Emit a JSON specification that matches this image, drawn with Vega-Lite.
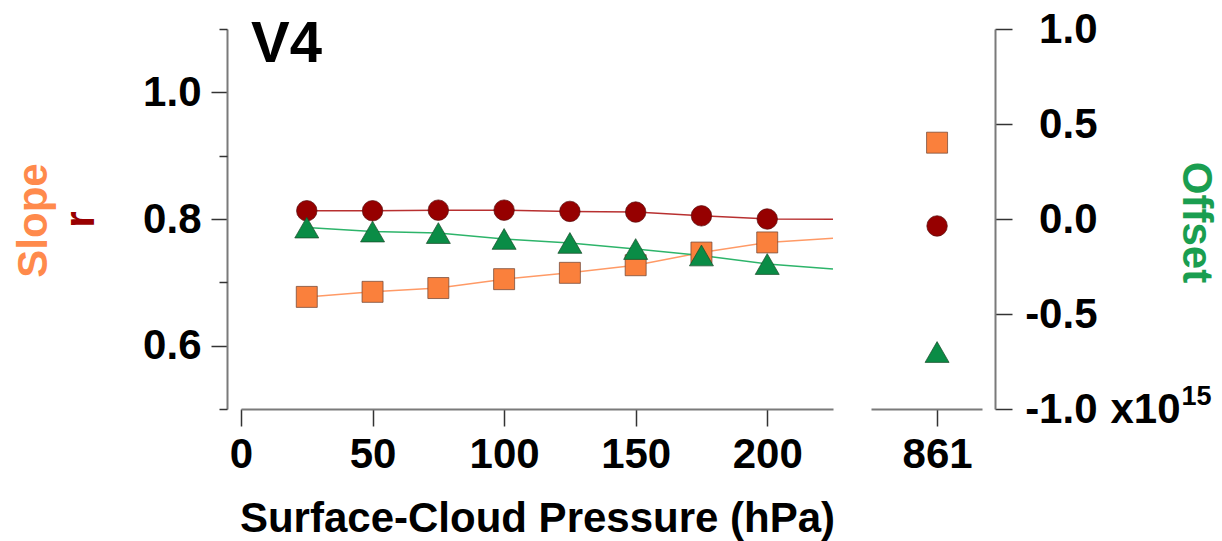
{
  "$schema": "https://vega.github.io/schema/vega-lite/v6.json",
  "background": "white",
  "padding": {"left": 11, "top": 8, "right": 5, "bottom": 5},
  "config": {
    "view": {"stroke": null},
    "font": "Liberation Sans",
    "axis": {
      "labelFont": "Liberation Sans", "titleFont": "Liberation Sans",
      "labelFontWeight": "bold", "titleFontWeight": "bold",
      "labelFontSize": 42, "titleFontSize": 42,
      "labelColor": "black", "titleColor": "black",
      "domainColor": "#7a7a7a", "domainWidth": 2,
      "tickColor": "#333333", "tickWidth": 1.5,
      "grid": false, "labelFlush": false, "labelOverlap": false, "labelLimit": 0
    }
  },
  "datasets": {
    "main": [
      {"p": 25, "slope": 0.677, "r": 0.813, "offset": -0.045, "kind": "point"},
      {"p": 50, "slope": 0.685, "r": 0.813, "offset": -0.066, "kind": "point"},
      {"p": 75, "slope": 0.691, "r": 0.814, "offset": -0.074, "kind": "point"},
      {"p": 100, "slope": 0.705, "r": 0.814, "offset": -0.105, "kind": "point"},
      {"p": 125, "slope": 0.715, "r": 0.812, "offset": -0.126, "kind": "point"},
      {"p": 150, "slope": 0.727, "r": 0.811, "offset": -0.158, "kind": "point"},
      {"p": 175, "slope": 0.747, "r": 0.805, "offset": -0.192, "kind": "point"},
      {"p": 200, "slope": 0.763, "r": 0.800, "offset": -0.237, "kind": "point"},
      {"p": 225, "slope": 0.7695, "r": 0.7995, "offset": -0.263, "kind": "edge"}
    ],
    "clear": [
      {"p": 861, "slope": 0.9205, "r": 0.789, "offset": -0.70}
    ]
  },
  "bounds": "flush",
  "spacing": 38,
  "hconcat": [
    {
      "width": 592,
      "height": 380,
      "data": {"name": "main"},
      "title": {"text": "V4", "anchor": "start", "frame": "group", "font": "Liberation Sans", "fontSize": 58, "fontWeight": "bold", "color": "black", "baseline": "alphabetic", "offset": 0, "dx": 10, "dy": 92},
      "layer": [
        {
          "mark": {"type": "line", "color": "#ff9a66", "strokeWidth": 1.5},
          "encoding": {
            "x": {"field": "p", "type": "quantitative", "scale": {"domain": [0, 225], "nice": false, "zero": false},
              "axis": {"values": [0, 50, 100, 150, 200], "tickSize": 17, "labelPadding": 8, "title": "Surface-Cloud Pressure (hPa)", "titlePadding": 23}},
            "y": {"field": "slope", "type": "quantitative", "scale": {"domain": [0.5, 1.1], "nice": false, "zero": false},
              "axis": {"orient": "left", "offset": 14, "values": [0.6, 0.8, 1.0], "format": ".1f", "tickSize": 16, "labelPadding": 10,
                "title": "Slope", "titleColor": "#ff8a4c", "titleAngle": -90, "titleBaseline": "alphabetic", "titleAlign": "center", "titleX": -181, "titleY": 191}}
          }
        },
        {
          "mark": {"type": "line", "color": "#b83030", "strokeWidth": 1.5},
          "encoding": {
            "x": {"field": "p", "type": "quantitative"},
            "y": {"field": "r", "type": "quantitative", "scale": {"domain": [0.5, 1.1], "nice": false, "zero": false},
              "axis": {"orient": "left", "offset": 14, "values": [0.5, 0.7, 0.9, 1.1], "tickSize": 8, "labels": false, "domain": false,
                "title": "r", "titleColor": "#990000", "titleAngle": -90, "titleBaseline": "alphabetic", "titleAlign": "center", "titleX": -134, "titleY": 190}}
          }
        },
        {
          "mark": {"type": "line", "color": "#2db46a", "strokeWidth": 1.5},
          "encoding": {
            "x": {"field": "p", "type": "quantitative"},
            "y": {"field": "offset", "type": "quantitative", "scale": {"domain": [-1, 1], "nice": false, "zero": false}, "axis": null}
          }
        },
        {
          "transform": [{"filter": "datum.kind == 'point'"}],
          "mark": {"type": "point", "shape": "square", "size": 441, "filled": true, "fill": "#fa803c", "stroke": "#6a4030", "strokeWidth": 1, "strokeOpacity": 0.7, "opacity": 1},
          "encoding": {
            "x": {"field": "p", "type": "quantitative"},
            "y": {"field": "slope", "type": "quantitative", "scale": {"domain": [0.5, 1.1], "nice": false, "zero": false}, "axis": null}
          }
        },
        {
          "transform": [{"filter": "datum.kind == 'point'"}],
          "mark": {"type": "point", "shape": "circle", "size": 420, "filled": true, "fill": "#960000", "stroke": "#5a1010", "strokeWidth": 1, "strokeOpacity": 0.7, "opacity": 1},
          "encoding": {
            "x": {"field": "p", "type": "quantitative"},
            "y": {"field": "r", "type": "quantitative", "scale": {"domain": [0.5, 1.1], "nice": false, "zero": false}, "axis": null}
          }
        },
        {
          "transform": [{"filter": "datum.kind == 'point'"}],
          "mark": {"type": "point", "shape": "triangle-up", "size": 576, "filled": true, "fill": "#0a8c46", "stroke": "#1a4a2a", "strokeWidth": 1, "strokeOpacity": 0.7, "opacity": 1},
          "encoding": {
            "x": {"field": "p", "type": "quantitative"},
            "y": {"field": "offset", "type": "quantitative", "scale": {"domain": [-1, 1], "nice": false, "zero": false}, "axis": null}
          }
        }
      ],
      "resolve": {"scale": {"y": "independent"}, "axis": {"y": "independent"}}
    },
    {
      "width": 111,
      "height": 380,
      "data": {"name": "clear"},
      "layer": [
        {
          "mark": {"type": "point", "shape": "square", "size": 441, "filled": true, "fill": "#fa803c", "stroke": "#6a4030", "strokeWidth": 1, "strokeOpacity": 0.7, "opacity": 1},
          "encoding": {
            "x": {"field": "p", "type": "quantitative", "scale": {"domain": [836, 878], "nice": false, "zero": false},
              "axis": {"values": [861], "tickSize": 17, "labelPadding": 8, "title": null}},
            "y": {"field": "slope", "type": "quantitative", "scale": {"domain": [0.5, 1.1], "nice": false, "zero": false},
              "axis": {"orient": "right", "offset": 13, "values": [0.5], "domain": false, "tickSize": 17, "tickOpacity": 0,
                "labelExpr": "'x10'", "labelAlign": "left", "labelPadding": 98, "labelOffset": 0, "title": null}}
          }
        },
        {
          "mark": {"type": "point", "shape": "circle", "size": 420, "filled": true, "fill": "#960000", "stroke": "#5a1010", "strokeWidth": 1, "strokeOpacity": 0.7, "opacity": 1},
          "encoding": {
            "x": {"field": "p", "type": "quantitative"},
            "y": {"field": "r", "type": "quantitative", "scale": {"domain": [0.5, 1.1], "nice": false, "zero": false},
              "axis": {"orient": "right", "offset": 13, "values": [0.5], "domain": false, "tickSize": 17, "tickOpacity": 0,
                "labelExpr": "'15'", "labelAlign": "left", "labelPadding": 169, "labelFontSize": 27, "labelOffset": -13, "title": null}}
          }
        },
        {
          "mark": {"type": "point", "shape": "triangle-up", "size": 576, "filled": true, "fill": "#0a8c46", "stroke": "#1a4a2a", "strokeWidth": 1, "strokeOpacity": 0.7, "opacity": 1},
          "encoding": {
            "x": {"field": "p", "type": "quantitative"},
            "y": {"field": "offset", "type": "quantitative", "scale": {"domain": [-1, 1], "nice": false, "zero": false},
              "axis": {"orient": "right", "offset": 13, "values": [-1, -0.5, 0, 0.5, 1], "tickSize": 17,
                "labelExpr": "(datum.value < 0 ? '-' : '') + format(abs(datum.value), '.1f')",
                "labelAlign": "right", "labelPadding": 85,
                "title": "Offset", "titleColor": "#1a9e50", "titleAngle": 90, "titleBaseline": "alphabetic", "titleAlign": "center", "titleX": 187, "titleY": 193}}
          }
        }
      ],
      "resolve": {"scale": {"y": "independent"}, "axis": {"y": "independent"}}
    }
  ]
}
